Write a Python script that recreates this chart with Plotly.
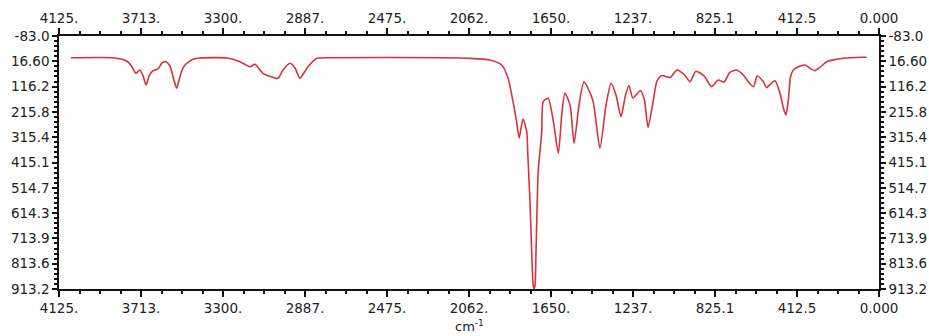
import numpy as np
import plotly.graph_objects as go

# Spectrum (wavenumber cm-1, intensity)
wavenumber = [4065, 3853, 3808, 3778, 3758, 3738, 3718, 3702, 3687, 3672, 3654, 3627,
              3607, 3587, 3567, 3547, 3533, 3521, 3506, 3491, 3451, 3416, 3280, 3215,
              3164, 3139, 3099, 3049, 3023, 2998, 2963, 2938, 2913, 2893, 2872, 2827,
              2762, 2193, 2058, 1957, 1898, 1866, 1841, 1823, 1810, 1791, 1772, 1767,
              1756, 1747.5, 1740, 1735.5, 1730.5, 1725.5, 1719, 1714, 1697, 1689, 1664, 1638,
              1613, 1596, 1580, 1554, 1534, 1509, 1484, 1440, 1404, 1373, 1348, 1323,
              1298, 1275, 1258, 1238, 1200, 1180, 1162, 1135, 1117, 1093, 1051, 1016,
              978, 951, 921, 880, 842, 808, 780, 750, 716, 683, 658, 632, 612, 582,
              565, 548, 523, 498, 481, 468, 456, 445, 431, 406, 372, 347, 322, 297,
              263, 213, 180, 87, 62, 0]
intensity = [2.4, 2.4, 8.7, 19.4, 37.9, 63.9, 50.9, 74.5, 109.9, 74.5, 54.8, 46.9,
             23.3, 18.2, 35.1, 90.3, 122.9, 90.3, 50.9, 31.2, 8.7, 3.6, 3.6, 18.2,
             37.9, 28.4, 63.9, 79.6, 83.6, 50.9, 24.5, 43.0, 83.6, 62.7, 37.9, 4.8,
             2.4, 2.4, 4.8, 11.5, 31.2, 82.4, 175.7, 254.4, 318.6, 243.8, 293.8, 378.0,
             563.0, 760.0, 895.0, 912.0, 900.0, 771.0, 563.0, 444.6, 298.9, 175.7, 162.3, 254.4,
             378.9, 228.1, 142.6, 188.7, 339.5, 188.7, 96.9, 169.0, 359.2, 188.7, 103.2, 149.3,
             234.8, 149.3, 111.9, 161.1, 131.6, 169.0, 277.3, 169.0, 94.2, 72.5, 80.4, 50.9,
             70.6, 96.9, 56.0, 74.5, 116.6, 90.3, 99.3, 60.7, 50.9, 70.6, 96.9, 116.6, 74.5,
             96.9, 120.6, 107.2, 93.0, 142.0, 200.5, 228.1, 169.0, 77.3, 50.9, 37.9, 31.2, 44.2,
             53.6, 40.2, 18.2, 8.7, 4.8, 0.9, 0.9]

x_tick_vals = [4125, 3712.5, 3300, 2887.5, 2475, 2062.5, 1650, 1237.5, 825, 412.5, 0]
x_tick_text = ["4125.", "3713.", "3300.", "2887.", "2475.", "2062.", "1650.", "1237.",
               "825.1", "412.5", "0.000"]
y_tick_vals = [-83.0, 16.6, 116.2, 215.8, 315.4, 415.1, 514.7, 614.3, 713.9, 813.6, 913.2]
y_tick_text = ["-83.0", "16.60", "116.2", "215.8", "315.4", "415.1", "514.7", "614.3",
               "713.9", "813.6", "913.2"]

def minors(vals, n):
    out = []
    for a, b in zip(vals[:-1], vals[1:]):
        for k in range(1, n):
            out.append(a + (b - a) * k / n)
    return out

x_minor = minors(x_tick_vals, 4)
y_minor = minors(y_tick_vals, 5)

FONT = "DejaVu Sans"
tickfont = dict(family=FONT, size=13.5, color="#222222")

fig = go.Figure()
fig.add_trace(go.Scatter(x=wavenumber, y=intensity, mode="lines",
                         line=dict(color="#d8323e", width=1.6, shape="spline", smoothing=0.6),
                         hoverinfo="skip", showlegend=False))
fig.add_trace(go.Scatter(x=[None], y=[None], xaxis="x2", yaxis="y2",
                         mode="lines", showlegend=False, hoverinfo="skip"))

common_x = dict(range=[4125, 0], tickmode="array", tickvals=x_tick_vals, ticktext=x_tick_text,
                ticks="outside", ticklen=6, tickwidth=1.5, tickcolor="#111111",
                showline=True, linecolor="#111111", linewidth=1.5, showgrid=False,
                zeroline=False, tickfont=tickfont, automargin=False,
                minor=dict(tickmode="array", tickvals=x_minor, ticks="outside", ticklen=3,
                           tickwidth=1.5, tickcolor="#111111", showgrid=False))
common_y = dict(range=[913.2, -83.0], tickmode="array", tickvals=y_tick_vals, ticktext=y_tick_text,
                ticks="outside", ticklen=5, tickwidth=1.5, tickcolor="#111111",
                showline=True, linecolor="#111111", linewidth=1.5, showgrid=False,
                zeroline=False, tickfont=tickfont, automargin=False,
                minor=dict(tickmode="array", tickvals=y_minor, ticks="outside", ticklen=3,
                           tickwidth=1.5, tickcolor="#111111", showgrid=False))

fig.update_layout(
    width=929, height=336,
    margin=dict(l=59, r=50, t=36, b=47, autoexpand=False),
    paper_bgcolor="white", plot_bgcolor="white",
    xaxis=dict(**common_x, side="bottom", ticklabelstandoff=0),
    yaxis=dict(**common_y, side="left", ticklabelstandoff=0),
    xaxis2=dict(**common_x, side="top", overlaying="x", anchor="y2", ticklabelstandoff=0),
    yaxis2=dict(**common_y, side="right", overlaying="y", anchor="x2", ticklabelstandoff=0),
    annotations=[dict(text="cm<sup>-1</sup>", x=0.5, y=-0.145, xref="paper", yref="paper",
                      xanchor="center", yanchor="middle", showarrow=False,
                      font=dict(family=FONT, size=13, color="#222222"))],
)

fig.write_html("out.html", config={"displayModeBar": False},
               post_script="document.body.style.margin='0px';document.body.style.overflow='hidden';")
